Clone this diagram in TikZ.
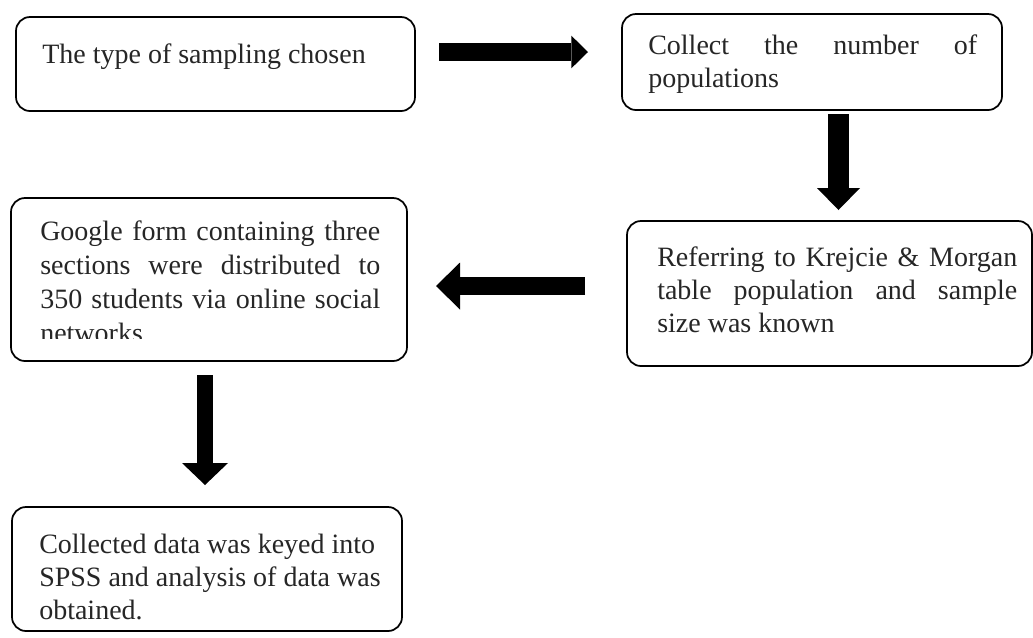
\documentclass[tikz,border=0pt]{standalone}
\usepackage{fontspec}
\setmainfont{Liberation Serif}
\usetikzlibrary{arrows.meta,fit}
\tikzset{
  box/.style={draw=black, line width=1.3pt, rounded corners=10.5pt, inner sep=0pt},
  txt/.style={anchor=base west, inner sep=0pt, align=left, text=black!85,
    font=\fontsize{21pt}{24.75pt}\selectfont},
  blockarrow/.style={draw=black, line cap=butt, line width=#1},
}
\begin{document}
\begin{tikzpicture}[x=0.75pt,y=-0.75pt]
\useasboundingbox[fill=white] (0,0) rectangle (1033,637);
% boxes
\node[box, fit={(16,17) (415,111)}] (b1) {};
\node[box, fit={(622,14) (1002,110)}] (b2) {};
\node[box, fit={(627,221) (1032,366)}] (b3) {};
\node[box, fit={(11,198) (407,361)}] (b4) {};
\node[box, fit={(12,507) (402,631)}] (b5) {};
% texts (base anchor = baseline of the last line)
\node[txt] (t1) at (42,63) {The type of sampling chosen};
\node[txt] (t2) at (648,87) {\makebox[246.75pt][s]{Collect the number of}\\populations};
\node[txt] (t3) at (657,332) {\makebox[270pt][s]{Referring to Krejcie \& Morgan}\\\makebox[270pt][s]{table population and sample}\\size was known};
\begin{scope}
\clip (11,198) rectangle (407,338);
\node[txt, font=\fontsize{21pt}{25.5pt}\selectfont] (t4) at (40,342) {\makebox[255pt][s]{Google form containing three}\\\makebox[255pt][s]{sections were distributed to}\\\makebox[255pt][s]{350 students via online social}\\networks};
\end{scope}
\node[txt] (t5) at (39,619) {Collected data was keyed into\\SPSS and analysis of data was\\obtained.};
% arrow ends
\coordinate (a1s) at (439,52);   \coordinate (a1e) at (588,52);
\coordinate (a2s) at (838.5,114); \coordinate (a2e) at (838.5,210);
\coordinate (a3s) at (585,286);  \coordinate (a3e) at (436,286);
\coordinate (a4s) at (205,375);  \coordinate (a4e) at (205,485);
% arrows
\draw[blockarrow=13.5pt, -{Triangle[width=24.5pt,length=12.5pt,line width=0pt]}] (a1s) -- (a1e);
\draw[blockarrow=15.75pt, -{Triangle[width=32.25pt,length=16.5pt,line width=0pt]}] (a2s) -- (a2e);
\draw[blockarrow=13.5pt, -{Triangle[width=35.25pt,length=18pt,line width=0pt]}] (a3s) -- (a3e);
\draw[blockarrow=12pt, -{Triangle[width=34.5pt,length=16.5pt,line width=0pt]}] (a4s) -- (a4e);
\end{tikzpicture}
\end{document}
